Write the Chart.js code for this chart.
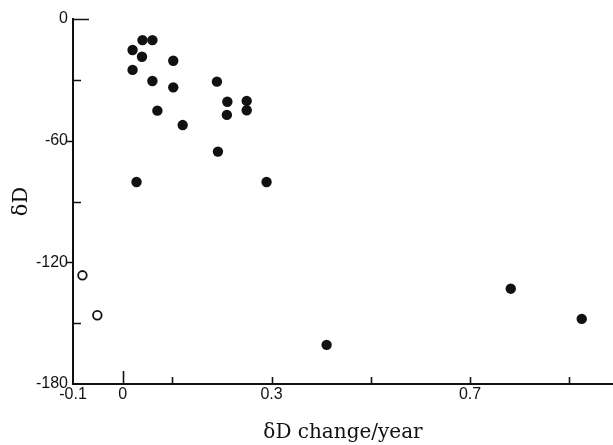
<!DOCTYPE html>
<html>
<head>
<meta charset="utf-8">
<script src="https://cdn.jsdelivr.net/npm/chart.js@4"></script>
<style>
html,body{margin:0;padding:0;background:#fff;overflow:hidden;}
#wrap{width:613px;height:445px;}
canvas{display:block;}
</style>
</head>
<body>
<div id="wrap"><canvas id="c" width="613" height="445"></canvas></div>
<script>
// Filled circles: x = δD change/year, y = δD
const filledX = [0.020, 0.040, 0.060, 0.039, 0.102, 0.020, 0.060, 0.102, 0.190, 0.211, 0.250, 0.210, 0.250, 0.070, 0.121, 0.192, 0.028, 0.290, 0.411, 0.782, 0.925];
const filledY = [-15.3, -10.4, -10.4, -18.6, -20.6, -25.1, -30.6, -33.7, -30.9, -40.8, -40.4, -47.3, -45.0, -45.2, -52.3, -65.4, -80.4, -80.4, -160.7, -133.0, -147.9];
// Open circles
const openX = [-0.081, -0.051];
const openY = [-126.4, -146.1];

// Tick values
const xLabelTicks = [-0.1, 0, 0.3, 0.7];
const xMarkTicks = [0, 0.1, 0.3, 0.5, 0.7, 0.9];
const yLabelTicks = [0, -60, -120, -180];
const yInnerTicks = [0, -30, -90, -150];
const yOuterTicks = [-60, -120];

const xMin = -0.1, xMax = 0.988, yMin = -180, yMax = 0;

const filledData = filledX.map((x, i) => ({x, y: filledY[i]}));
const openData = openX.map((x, i) => ({x, y: openY[i]}));

const ink = '#111';

const tickPlugin = {
  id: 'tickMarks',
  afterDraw(chart) {
    const ctx = chart.ctx;
    const xs = chart.scales.x, ys = chart.scales.y;
    const left = chart.chartArea.left, bottom = chart.chartArea.bottom;
    ctx.save();
    ctx.strokeStyle = ink;
    ctx.lineWidth = 1.6;
    ctx.beginPath();
    yInnerTicks.forEach(v => {
      const p = Math.round(ys.getPixelForValue(v)) + 0.5;
      const len = v === 0 ? 16 : 8;
      ctx.moveTo(left, p); ctx.lineTo(left + len, p);
    });
    yOuterTicks.forEach(v => {
      const p = Math.round(ys.getPixelForValue(v)) + 0.5;
      ctx.moveTo(left, p); ctx.lineTo(left - 7, p);
    });
    xMarkTicks.forEach(v => {
      const p = Math.round(xs.getPixelForValue(v)) + 0.5;
      const len = v === 0 ? 13 : 7;
      ctx.moveTo(p, bottom); ctx.lineTo(p, bottom - len);
    });
    ctx.stroke();
    ctx.restore();
  }
};

new Chart(document.getElementById('c'), {
  type: 'scatter',
  data: {
    datasets: [
      {
        label: 'filled',
        data: filledData,
        pointStyle: 'circle',
        pointRadius: 5.2,
        pointHoverRadius: 5.2,
        backgroundColor: ink,
        borderColor: ink,
        borderWidth: 0,
        clip: false
      },
      {
        label: 'open',
        data: openData,
        pointStyle: 'circle',
        pointRadius: 4.3,
        pointHoverRadius: 4.3,
        backgroundColor: '#fff',
        borderColor: ink,
        borderWidth: 1.8,
        clip: false
      }
    ]
  },
  options: {
    responsive: false,
    animation: false,
    events: [],
    layout: {autoPadding: false, padding: {top: 19, right: 0, left: 0, bottom: 0}},
    plugins: {legend: {display: false}, tooltip: {enabled: false}},
    scales: {
      x: {
        type: 'linear',
        min: xMin,
        max: xMax,
        afterBuildTicks: s => { s.ticks = xLabelTicks.map(v => ({value: v})); },
        afterFit: s => { s.height = 61; s.paddingLeft = 0; s.paddingRight = 0; },
        grid: {display: false, drawTicks: false},
        border: {display: true, color: ink, width: 2},
        ticks: {
          autoSkip: false,
          maxRotation: 0,
          padding: 1,
          color: ink,
          font: {family: '"Liberation Sans", Arial, sans-serif', size: 16},
          callback: v => String(v)
        },
        title: {
          display: true,
          text: 'δD change/year',
          color: ink,
          font: {family: '"DejaVu Serif", serif', size: 20},
          padding: {top: 0, bottom: 0}
        }
      },
      y: {
        type: 'linear',
        min: yMin,
        max: yMax,
        afterBuildTicks: s => { s.ticks = yLabelTicks.map(v => ({value: v})); },
        afterFit: s => { s.width = 73; s.paddingTop = 0; s.paddingBottom = 0; },
        grid: {display: false, drawTicks: false},
        border: {display: true, color: ink, width: 2},
        ticks: {
          autoSkip: false,
          padding: 5,
          color: ink,
          font: {family: '"Liberation Sans", Arial, sans-serif', size: 16},
          callback: v => String(v)
        },
        title: {
          display: true,
          text: 'δD',
          color: ink,
          font: {family: '"DejaVu Serif", serif', size: 21},
          padding: {top: 9, bottom: 0}
        }
      }
    }
  },
  plugins: [tickPlugin]
});
</script>
</body>
</html>
